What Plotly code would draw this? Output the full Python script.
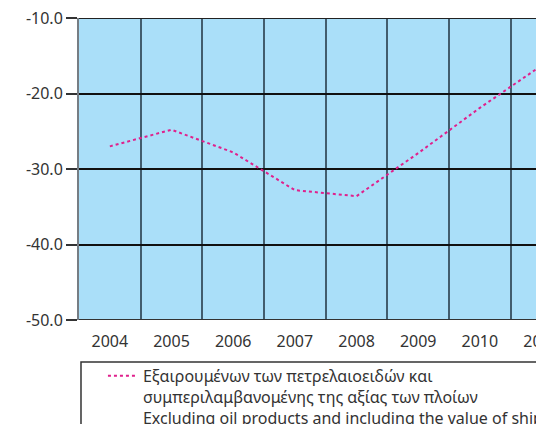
import plotly.graph_objects as go

years = ["2004", "2005", "2006", "2007", "2008", "2009", "2010", "2011"]
balance = [-27.0, -24.8, -27.8, -32.8, -33.6, -27.9, -21.9, -16.3]
y_ticks = [-50, -40, -30, -20, -10]
y_tick_text = ["-50.0", "-40.0", "-30.0", "-20.0", "-10.0"]
series_name = (
    "Εξαιρουμένων των πετρελαιοειδών και<br>"
    "συμπεριλαμβανομένης της αξίας των πλοίων<br>"
    "Excluding oil products and including the value of ships"
)

FONT = "Noto Sans"

fig = go.Figure()
fig.add_trace(go.Scatter(
    x=years, y=balance, mode="lines", name=series_name,
    line=dict(color="#e0208c", width=2, dash="dot"),
))

# the page body has an 8px margin, so the figure is 8px smaller than the window
fig.update_layout(
    width=536, height=416,
    margin=dict(l=71, r=0, t=10, b=104, autoexpand=False),
    paper_bgcolor="white",
    plot_bgcolor="#aadff9",
    font=dict(family=FONT, size=16, color="#333333"),
    showlegend=True,
    legend=dict(
        x=0.0515, y=-0.129, xanchor="left", yanchor="top",
        borderwidth=0, bgcolor="rgba(0,0,0,0)",
        valign="top", font=dict(size=16, color="#333333"),
    ),
)
fig.update_xaxes(
    type="category", range=[-0.5, 7.04], tickson="boundaries",
    showgrid=True, gridcolor="rgba(40,60,75,0.8)", gridwidth=2,
    ticks="", ticklabelstandoff=10,
    showline=False, zeroline=False, automargin=False,
    tickfont=dict(size=16, color="#333333"),
)
fig.update_yaxes(
    range=[-50, -10], tickvals=y_ticks, ticktext=y_tick_text,
    showgrid=True, gridcolor="#111111", gridwidth=1.5,
    ticks="outside", ticklen=11, tickcolor="#333333", tickwidth=1.5,
    showline=True, linecolor="rgba(60,70,80,0.7)", linewidth=2, mirror=False,
    zeroline=False, automargin=False, ticklabeloverflow="allow",
    tickfont=dict(size=16, color="#333333"),
)
# top and bottom frame lines
fig.add_hline(y=-10, line=dict(color="#222222", width=2))
fig.add_hline(y=-50, line=dict(color="#333333", width=2))
# legend frame (runs past the right and bottom edges, as in the source)
fig.add_shape(type="rect", xref="paper", yref="paper",
              x0=0.0043, x1=1.3, y0=-0.139, y1=-0.6,
              line=dict(color="#333333", width=1.5), fillcolor="rgba(0,0,0,0)")

fig.write_html("out.html")
